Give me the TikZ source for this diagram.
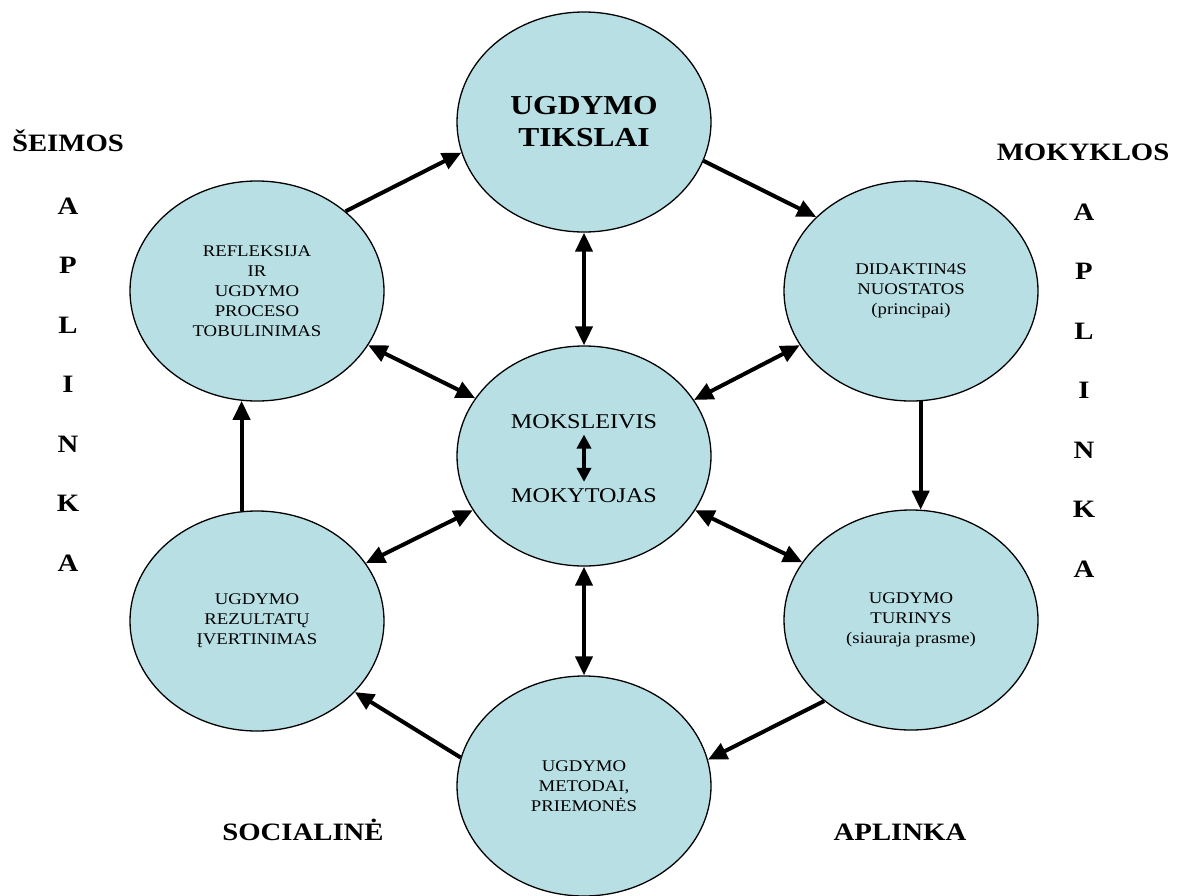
\documentclass[tikz,border=0pt]{standalone}
\usepackage{fontspec}
\setmainfont{Liberation Serif}[FakeStretch=1.15]
\usetikzlibrary{shapes.geometric,arrows.meta}
\definecolor{bubble}{RGB}{183,223,228}
\begin{document}
\begin{tikzpicture}[x=1pt,y=-1pt,
  bub/.style={ellipse,draw=black,line width=1.3pt,fill=bubble,minimum width=254pt,minimum height=220pt,inner sep=0pt,align=center,font=\fontsize{16.3}{20}\selectfont},
  flow/.style={line width=4pt,-{Triangle[length=19pt,width=17pt]}},
  dbl/.style={line width=4pt,{Triangle[length=19pt,width=17pt]}-{Triangle[length=19pt,width=17pt]}},
  small/.style={line width=4pt,{Triangle[length=14pt,width=14pt]}-{Triangle[length=14pt,width=14pt]}},
  inner/.style={font=\fontsize{21}{21}\selectfont,anchor=base,inner sep=6pt},
  side/.style={font=\bfseries\fontsize{25}{25}\selectfont,anchor=base,inner sep=0pt}]
\useasboundingbox (0,0) rectangle (1183,895);

\node[bub,font=\bfseries\fontsize{27.4}{32}\selectfont] (t) at (584,122) {UGDYMO\\TIKSLAI};
\node[bub] (c) at (584,456) {};
\node[bub] (rl) at (257,291) {REFLEKSIJA\\IR\\UGDYMO\\PROCESO\\TOBULINIMAS};
\node[bub] (dd) at (911,291) {DIDAKTIN4S\\NUOSTATOS\\(principai)};
\node[bub] (tr) at (911,620) {UGDYMO\\TURINYS\\(siauraja prasme)};
\node[bub] (iv) at (257,621) {UGDYMO\\REZULTATŲ\\ĮVERTINIMAS};
\node[bub] (mt) at (584,786) {UGDYMO\\METODAI,\\PRIEMONĖS};

\node[inner] (ms) at (584,428) {MOKSLEIVIS};
\node[inner] (mk) at (584,502) {MOKYTOJAS};
\draw[small] (ms.south) -- (mk.north);

\draw[flow] (rl.42.7) -- (t.194);
\draw[flow] (t.-18.6) -- (dd.142.5);
\draw[flow] (dd.-85) -- (tr.85);
\draw[flow] (tr.223) -- (mt.12.5);
\draw[flow] (mt.167.3) -- (iv.-36.9);
\draw[flow] (iv.98) -- (rl.-98);

\draw[dbl] (c.north) -- (t.south);
\draw[dbl] (c.south) -- (mt.north);
\draw[dbl] (c.152.4) -- (rl.-26);
\draw[dbl] (c.27.6) -- (dd.206);
\draw[dbl] (c.206.8) -- (iv.28);
\draw[dbl] (c.-26.8) -- (tr.152);

\node[side] (seimos) at (68,151.3) {ŠEIMOS};
\foreach \l [count=\i] in {A,P,L,I,N,K,A}
  \node[side] (la\i) at (68,{214.3+59.5*(\i-1)}) {\l};
\node[side] (mokyklos) at (1083,160.3) {MOKYKLOS};
\foreach \l [count=\i] in {A,P,L,I,N,K,A}
  \node[side] (ra\i) at (1084,{220.3+59.5*(\i-1)}) {\l};
\node[side] (social) at (303,840.3) {SOCIALINĖ};
\node[side] (aplinka) at (900,840.3) {APLINKA};
\end{tikzpicture}
\end{document}
